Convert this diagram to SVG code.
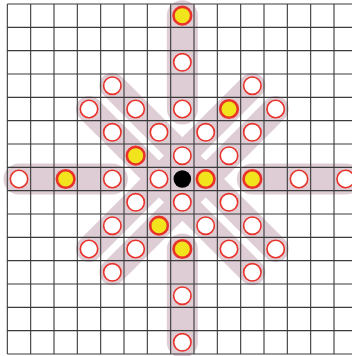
<svg xmlns="http://www.w3.org/2000/svg" width="352" height="356" viewBox="0 0 352 356">
<style>
.band{stroke:#decdd5;fill:none;stroke-linecap:round}
.hv{stroke-width:31}
.dg{stroke-width:26}
.grid{stroke:#3a3a3a;stroke-width:1.1;fill:none}
.w{fill:#fff;stroke:#e8322a;stroke-width:1.6}
.y{fill:#f2e41c;stroke:#e8322a;stroke-width:2.6}
.b{fill:#000}
</style>
<rect width="352" height="356" fill="#fff"/>
<g id="connectors">
<line class="band hv" x1="182.33" y1="15.67" x2="182.33" y2="109"/>
<line class="band hv" x1="182.33" y1="249" x2="182.33" y2="342.33"/>
<line class="band hv" x1="19" y1="179" x2="112.33" y2="179"/>
<line class="band hv" x1="252.33" y1="179" x2="345.67" y2="179"/>
<line class="band dg" x1="112.33" y1="85.67" x2="275.67" y2="249"/>
<line class="band dg" x1="89" y1="109" x2="252.33" y2="272.33"/>
<line class="band dg" x1="252.33" y1="85.67" x2="89" y2="249"/>
<line class="band dg" x1="275.67" y1="109" x2="112.33" y2="272.33"/>
</g>
<g id="grid">
<path class="grid" d="M7.33 4V354M30.67 4V354M54 4V354M77.33 4V354M100.67 4V354M124 4V354M147.33 4V354M170.67 4V354M194 4V354M217.33 4V354M240.67 4V354M264 4V354M287.33 4V354M310.67 4V354M334 4V354
M7.33 4H352M7.33 27.33H352M7.33 50.67H352M7.33 74H352M7.33 97.33H352M7.33 120.67H352M7.33 144H352M7.33 167.33H352M7.33 190.67H352M7.33 214H352M7.33 237.33H352M7.33 260.67H352M7.33 284H352M7.33 307.33H352M7.33 330.67H352M7.33 354H352"/>
</g>
<g id="nodes">
<g id="n7-0"><circle class="y" cx="182.33" cy="15.67" r="8.8"/></g>
<g id="n7-2"><circle class="w" cx="182.33" cy="62.33" r="8.7"/></g>
<g id="n7-4"><circle class="w" cx="182.33" cy="109" r="8.7"/></g>
<g id="n7-6"><circle class="w" cx="182.33" cy="155.67" r="8.7"/></g>
<g id="n7-8"><circle class="w" cx="182.33" cy="202.33" r="8.7"/></g>
<g id="n7-10"><circle class="y" cx="182.33" cy="249" r="8.8"/></g>
<g id="n7-12"><circle class="w" cx="182.33" cy="295.67" r="8.7"/></g>
<g id="n7-14"><circle class="w" cx="182.33" cy="342.33" r="8.7"/></g>
<g id="n0-7"><circle class="w" cx="19" cy="179" r="8.7"/></g>
<g id="n2-7"><circle class="y" cx="65.67" cy="179" r="8.8"/></g>
<g id="n4-7"><circle class="w" cx="112.33" cy="179" r="8.7"/></g>
<g id="n6-7"><circle class="w" cx="159" cy="179" r="8.7"/></g>
<g id="n8-7"><circle class="y" cx="205.67" cy="179" r="8.8"/></g>
<g id="n10-7"><circle class="y" cx="252.33" cy="179" r="8.8"/></g>
<g id="n12-7"><circle class="w" cx="299" cy="179" r="8.7"/></g>
<g id="n14-7"><circle class="w" cx="345.67" cy="179" r="8.7"/></g>
<g id="n4-3"><circle class="w" cx="112.33" cy="85.67" r="8.7"/></g>
<g id="n5-4"><circle class="w" cx="135.67" cy="109" r="8.7"/></g>
<g id="n6-5"><circle class="w" cx="159" cy="132.33" r="8.7"/></g>
<g id="n9-8"><circle class="w" cx="229" cy="202.33" r="8.7"/></g>
<g id="n10-9"><circle class="w" cx="252.33" cy="225.67" r="8.7"/></g>
<g id="n11-10"><circle class="w" cx="275.67" cy="249" r="8.7"/></g>
<g id="n3-4"><circle class="w" cx="89" cy="109" r="8.7"/></g>
<g id="n4-5"><circle class="w" cx="112.33" cy="132.33" r="8.7"/></g>
<g id="n5-6"><circle class="y" cx="135.67" cy="155.67" r="8.8"/></g>
<g id="n8-9"><circle class="w" cx="205.67" cy="225.67" r="8.7"/></g>
<g id="n9-10"><circle class="w" cx="229" cy="249" r="8.7"/></g>
<g id="n10-11"><circle class="w" cx="252.33" cy="272.33" r="8.7"/></g>
<g id="n10-3"><circle class="w" cx="252.33" cy="85.67" r="8.7"/></g>
<g id="n9-4"><circle class="y" cx="229" cy="109" r="8.8"/></g>
<g id="n8-5"><circle class="w" cx="205.67" cy="132.33" r="8.7"/></g>
<g id="n5-8"><circle class="w" cx="135.67" cy="202.33" r="8.7"/></g>
<g id="n4-9"><circle class="w" cx="112.33" cy="225.67" r="8.7"/></g>
<g id="n3-10"><circle class="w" cx="89" cy="249" r="8.7"/></g>
<g id="n11-4"><circle class="w" cx="275.67" cy="109" r="8.7"/></g>
<g id="n10-5"><circle class="w" cx="252.33" cy="132.33" r="8.7"/></g>
<g id="n9-6"><circle class="w" cx="229" cy="155.67" r="8.7"/></g>
<g id="n6-9"><circle class="y" cx="159" cy="225.67" r="8.8"/></g>
<g id="n5-10"><circle class="w" cx="135.67" cy="249" r="8.7"/></g>
<g id="n4-11"><circle class="w" cx="112.33" cy="272.33" r="8.7"/></g>
<g id="center"><circle class="b" cx="182.33" cy="179" r="8.8"/></g>
</g>
</svg>
